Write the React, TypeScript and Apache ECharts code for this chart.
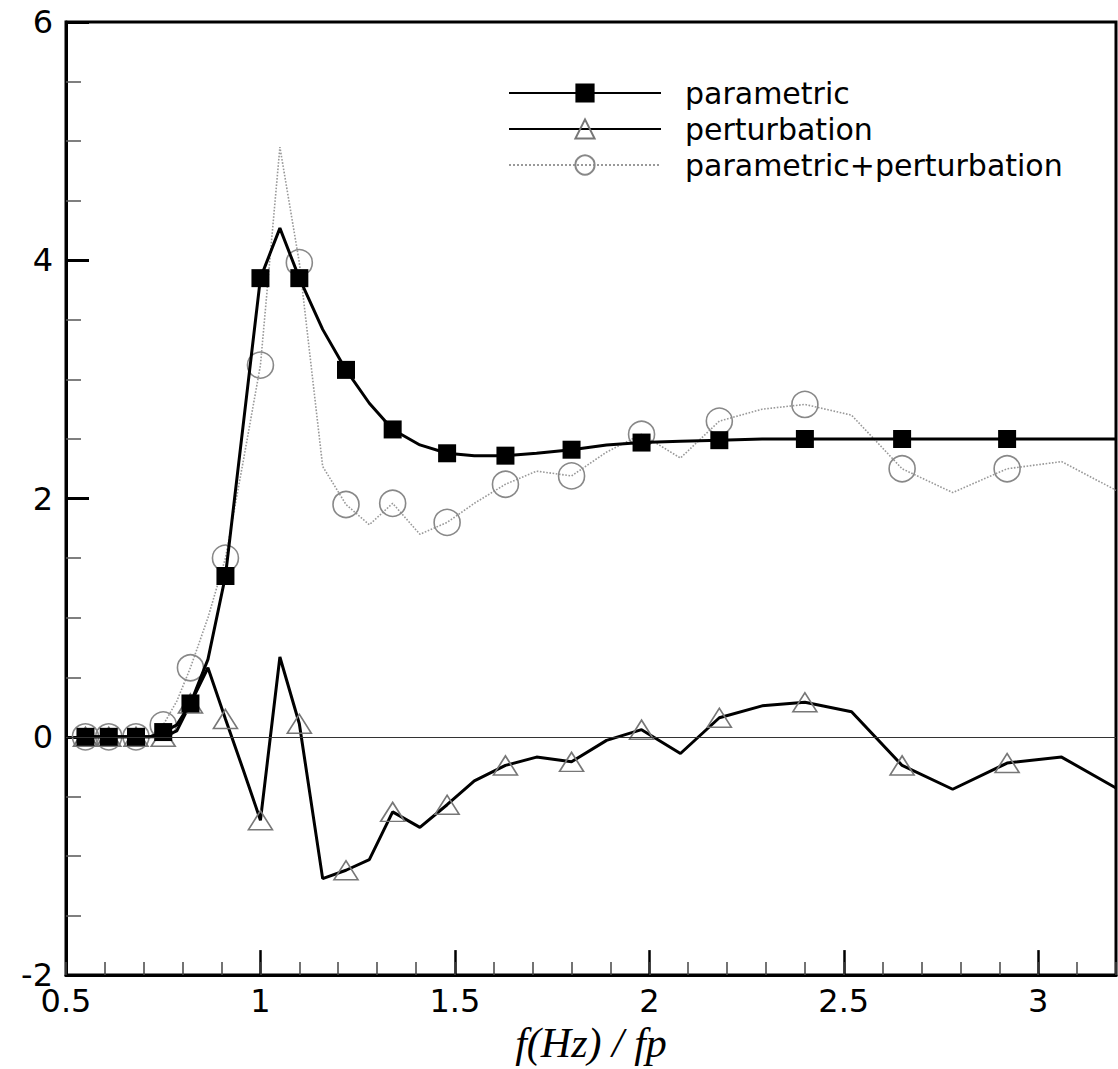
import React, { useEffect, useRef } from "react";
import * as echarts from "echarts";

// Normalized frequency f/fp (line vertices; every second vertex carries a symbol)
const freq = [
  0.55, 0.58, 0.61, 0.645, 0.68, 0.715, 0.75, 0.785, 0.82, 0.865, 0.91, 0.955,
  1.0, 1.05, 1.1, 1.16, 1.22, 1.28, 1.34, 1.41, 1.48, 1.55, 1.63, 1.71, 1.8,
  1.89, 1.98, 2.08, 2.18, 2.29, 2.4, 2.52, 2.65, 2.78, 2.92, 3.06, 3.2,
];

const parametric = [
  0, 0, 0, 0, 0, 0, 0.04, 0.1, 0.28, 0.65, 1.35, 2.6, 3.85, 4.27, 3.85, 3.42,
  3.08, 2.8, 2.58, 2.45, 2.38, 2.36, 2.36, 2.38, 2.41, 2.45, 2.47, 2.48, 2.49,
  2.5, 2.5, 2.5, 2.5, 2.5, 2.5, 2.5, 2.5,
];

const perturbation = [
  0, 0, 0, 0, 0, 0, 0, 0.05, 0.28, 0.58, 0.15, -0.27, -0.7, 0.67, 0.11, -1.19,
  -1.12, -1.03, -0.63, -0.76, -0.57, -0.37, -0.24, -0.17, -0.21, -0.03, 0.06,
  -0.14, 0.16, 0.26, 0.29, 0.21, -0.24, -0.44, -0.22, -0.17, -0.43,
];

const combined = [
  0, 0, 0, 0, 0, 0, 0.1, 0.3, 0.58, 1.0, 1.5, 2.3, 3.12, 4.95, 3.98, 2.27,
  1.95, 1.78, 1.96, 1.7, 1.8, 1.96, 2.12, 2.23, 2.19, 2.39, 2.54, 2.34, 2.65,
  2.75, 2.79, 2.7, 2.25, 2.05, 2.25, 2.31, 2.07,
];

const seriesNames = ["parametric", "perturbation", "parametric+perturbation"];
const xAxisTitle = "f(Hz) / fp";

function buildData(values: number[]) {
  return freq.map((f, i) => {
    const marked = i % 2 === 0 && f < 3.2;
    return marked
      ? { value: [f, values[i]] }
      : { value: [f, values[i]], symbol: "none" };
  });
}

export default function App() {
  const ref = useRef<HTMLDivElement>(null);

  useEffect(() => {
    if (!ref.current) return;
    const chart = echarts.init(ref.current, undefined, { renderer: "svg" });
    const labelFont = "DejaVu Sans";

    const option: any = {
      animation: false,
      backgroundColor: "#fff",
      grid: {
        left: 66,
        right: 2,
        top: 22,
        bottom: 89,
        show: true,
        borderColor: "#000",
        borderWidth: 3,
        backgroundColor: "transparent",
      },
      legend: {
        data: seriesNames,
        orient: "vertical",
        left: 503,
        top: 73,
        itemWidth: 152,
        itemHeight: 24,
        itemGap: 6,
        selectedMode: false,
        textStyle: {
          fontFamily: labelFont,
          fontSize: 30,
          color: "#000",
          padding: [0, 0, 0, 19],
        },
      },
      xAxis: [
        {
          type: "value",
          min: 0.5,
          max: 3.2,
          interval: 0.5,
          position: "bottom",
          axisLine: {
            show: true,
            onZero: false,
            lineStyle: { color: "#000", width: 3 },
          },
          axisTick: {
            show: true,
            inside: true,
            length: 25,
            lineStyle: { color: "#000", width: 2.5 },
          },
          axisLabel: {
            color: "#000",
            fontSize: 32,
            fontFamily: labelFont,
            margin: 10,
            showMaxLabel: false,
          },
          splitLine: { show: false },
          name: xAxisTitle,
          nameLocation: "middle",
          nameGap: 41,
          nameTextStyle: {
            fontFamily: "Liberation Serif",
            fontStyle: "italic",
            fontSize: 42,
            color: "#000",
          },
        },
        {
          type: "value",
          min: 0.5,
          max: 3.2,
          interval: 0.1,
          position: "bottom",
          axisLine: { show: false, onZero: false },
          axisTick: {
            show: true,
            inside: true,
            length: 13,
            lineStyle: { color: "#444", width: 1.5 },
          },
          axisLabel: { show: false },
          splitLine: { show: false },
        },
      ],
      yAxis: {
        type: "value",
        min: -2,
        max: 6,
        interval: 2,
        axisLine: {
          show: true,
          onZero: false,
          lineStyle: { color: "#000", width: 3 },
        },
        axisTick: {
          show: true,
          inside: true,
          length: 23,
          lineStyle: { color: "#000", width: 3 },
        },
        minorTick: {
          show: true,
          splitNumber: 4,
          length: 15,
          lineStyle: { color: "#555", width: 1.5 },
        },
        axisLabel: {
          color: "#000",
          fontSize: 32,
          fontFamily: labelFont,
          margin: 13,
        },
        splitLine: { show: false },
      },
      series: [
        {
          name: seriesNames[2],
          type: "line",
          z: 2,
          data: buildData(combined),
          symbol: "circle",
          symbolSize: 26,
          itemStyle: {
            color: "rgba(255,255,255,0)",
            borderColor: "#888",
            borderWidth: 1.6,
          },
          lineStyle: { color: "#999", width: 1.6, type: "dotted" },
          emphasis: { disabled: true },
        },
        {
          name: seriesNames[1],
          type: "line",
          z: 3,
          data: buildData(perturbation),
          symbol: "triangle",
          symbolSize: [24, 19],
          itemStyle: {
            color: "rgba(255,255,255,0)",
            borderColor: "#777",
            borderWidth: 1.6,
          },
          lineStyle: { color: "#000", width: 3 },
          emphasis: { disabled: true },
          markLine: {
            silent: true,
            symbol: "none",
            label: { show: false },
            lineStyle: { color: "#333", width: 1.2, type: "solid" },
            data: [{ yAxis: 0 }],
          },
        },
        {
          name: seriesNames[0],
          type: "line",
          z: 4,
          data: buildData(parametric),
          symbol: "rect",
          symbolSize: 18,
          itemStyle: { color: "#000" },
          lineStyle: { color: "#000", width: 3 },
          emphasis: { disabled: true },
        },
      ],
    };

    chart.setOption(option);
    return () => chart.dispose();
  }, []);

  return (
    <div
      ref={ref}
      style={{ position: "absolute", left: 0, top: 0, width: 1118, height: 1069 }}
    />
  );
}
